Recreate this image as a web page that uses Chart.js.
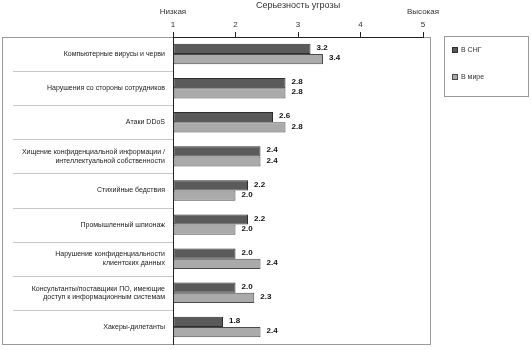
<!DOCTYPE html>
<html>
<head>
<meta charset="utf-8">
<script src="https://cdn.jsdelivr.net/npm/chart.js@4/dist/chart.umd.min.js"></script>
<style>
  html, body { margin: 0; padding: 0; background: #fff; }
  #wrap { width: 531px; height: 350px; }
</style>
</head>
<body>
<div id="wrap"><canvas id="threats"></canvas></div>
<script>
var FONT = "'Liberation Sans Narrow', 'Liberation Sans', Arial, sans-serif";

var categories = [
  ["Компьютерные вирусы и черви"],
  ["Нарушения со стороны сотрудников"],
  ["Атаки DDoS"],
  ["Хищение конфиденциальной информации /", "интеллектуальной собственности"],
  ["Стихийные бедствия"],
  ["Промышленный шпионаж"],
  ["Нарушение конфиденциальности", "клиентских данных"],
  ["Консультанты/поставщики ПО, имеющие", "доступ к информационным системам"],
  ["Хакеры-дилетанты"]
];
var cisValues   = [3.2, 2.8, 2.6, 2.4, 2.2, 2.2, 2.0, 2.0, 1.8];
var worldValues = [3.4, 2.8, 2.8, 2.4, 2.0, 2.0, 2.4, 2.3, 2.4];
var seriesNames = ["В СНГ", "В мире"];
var axisTitle = "Серьезность угрозы";
var lowLabel = "Низкая";
var highLabel = "Высокая";

// frame, row separators, value labels, scale ends and legend box
var decor = {
  id: 'decor',
  beforeDraw: function(chart) {
    var ctx = chart.ctx, a = chart.chartArea;
    ctx.save();
    ctx.strokeStyle = '#9a9a9a';
    ctx.lineWidth = 1;
    ctx.strokeRect(2.5, a.top + 0.5, 428, a.bottom - a.top);
    // separators between categories
    var y = chart.scales.y;
    ctx.strokeStyle = '#c8c8c8';
    for (var i = 0; i < categories.length - 1; i++) {
      var py = Math.round((y.getPixelForValue(i) + y.getPixelForValue(i + 1)) / 2) + 0.5;
      ctx.beginPath();
      ctx.moveTo(13, py);
      ctx.lineTo(a.left, py);
      ctx.stroke();
    }
    ctx.restore();
  },
  afterDraw: function(chart) {
    var ctx = chart.ctx, x = chart.scales.x;
    ctx.save();
    ctx.font = 'bold 8px ' + FONT;
    ctx.fillStyle = '#111';
    ctx.textBaseline = 'middle';
    chart.data.datasets.forEach(function(ds, di) {
      chart.getDatasetMeta(di).data.forEach(function(el, i) {
        ctx.fillText(ds.data[i].toFixed(1), el.x + 6, el.y - 1);
      });
    });
    // low / high markers
    ctx.font = '8px ' + FONT;
    ctx.fillStyle = '#333';
    ctx.textAlign = 'center';
    ctx.fillText(lowLabel, x.getPixelForValue(1), 12);
    ctx.fillText(highLabel, x.getPixelForValue(5), 12);
    // legend
    ctx.font = '7px ' + FONT;
    ctx.strokeStyle = '#9a9a9a';
    ctx.strokeRect(444.5, 36.5, 84, 60);
    ctx.textAlign = 'left';
    chart.data.datasets.forEach(function(ds, di) {
      var ly = 50 + di * 27;
      ctx.fillStyle = ds.backgroundColor;
      ctx.fillRect(452, ly - 3, 6, 6);
      ctx.strokeStyle = ds.borderColor;
      ctx.strokeRect(452.5, ly - 2.5, 5, 5);
      ctx.fillStyle = '#333';
      ctx.fillText(ds.label, 461, ly);
    });
    ctx.restore();
  }
};

new Chart(document.getElementById('threats'), {
  type: 'bar',
  data: {
    labels: categories,
    datasets: [
      {
        label: seriesNames[0],
        data: cisValues,
        backgroundColor: '#5a5a5a',
        borderColor: '#2e2e2e',
        borderWidth: 1,
        borderSkipped: false,
        categoryPercentage: 0.6,
        barPercentage: 1.0
      },
      {
        label: seriesNames[1],
        data: worldValues,
        backgroundColor: '#aaaaaa',
        borderColor: '#4a4a4a',
        borderWidth: 1,
        borderSkipped: false,
        categoryPercentage: 0.6,
        barPercentage: 1.0
      }
    ]
  },
  options: {
    indexAxis: 'y',
    responsive: true,
    maintainAspectRatio: false,
    animation: false,
    base: 1,
    layout: { padding: { top: 0, right: 108, bottom: 6, left: 0 } },
    plugins: {
      legend: { display: false },
      tooltip: { enabled: false }
    },
    scales: {
      x: {
        position: 'top',
        min: 1,
        max: 5,
        ticks: { stepSize: 1, color: '#333', font: { family: FONT, size: 8 }, padding: 2 },
        grid: { drawOnChartArea: false, tickLength: 5, color: '#222' },
        border: { color: '#222' },
        title: { display: true, text: axisTitle, color: '#333', font: { family: FONT, size: 9 }, padding: { top: 0, bottom: 12 } },
        afterFit: function(s) { s.height = 37; }
      },
      y: {
        ticks: { color: '#222', font: { family: FONT, size: 7 }, padding: 0, autoSkip: false },
        grid: { display: false },
        border: { color: '#222' },
        afterFit: function(s) {
          s.width = 173;
          s.paddingTop = 0;
          s.paddingBottom = 0;
        }
      }
    }
  },
  plugins: [decor]
});
</script>
</body>
</html>
